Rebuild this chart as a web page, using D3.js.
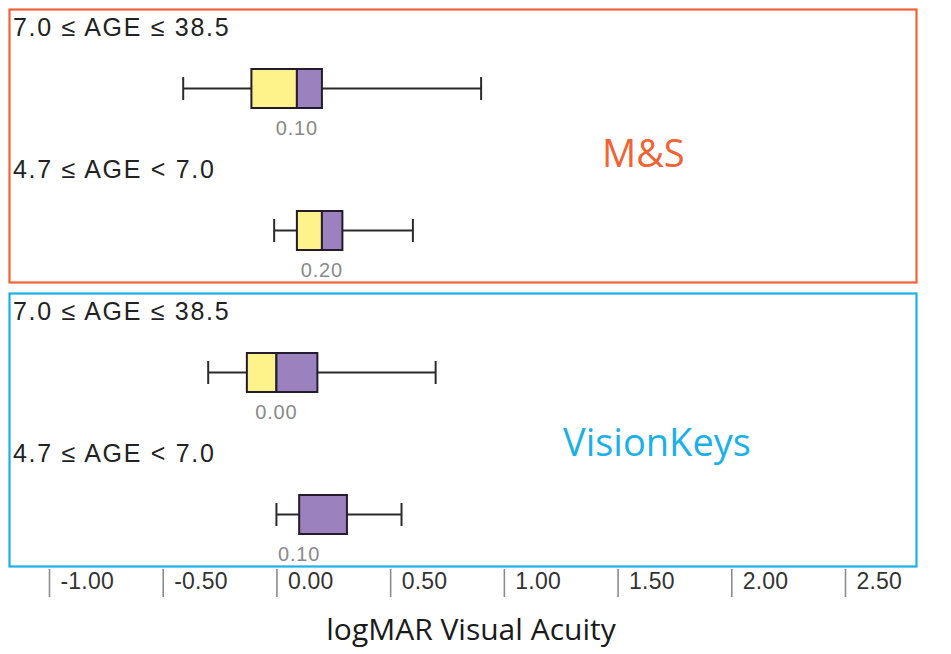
<!DOCTYPE html>
<html>
<head>
<meta charset="utf-8">
<script src="https://cdn.jsdelivr.net/npm/d3@7"></script>
<style>
  body { margin: 0; background: #fff; }
  svg { display: block; }
</style>
</head>
<body>
<svg id="chart"></svg>
<script>
// Data
const rows = ["ms-old", "ms-young", "vk-old", "vk-young"];
const groupLabels = ["7.0 ≤ AGE ≤ 38.5", "4.7 ≤ AGE < 7.0", "7.0 ≤ AGE ≤ 38.5", "4.7 ≤ AGE < 7.0"];
const lowWhisker = [-0.41, -0.01, -0.30, 0.00];
const q1 = [-0.11, 0.09, -0.13, 0.10];
const median = [0.09, 0.20, 0.00, 0.10];
const q3 = [0.20, 0.29, 0.18, 0.31];
const highWhisker = [0.90, 0.60, 0.70, 0.55];
const medianLabels = ["0.10", "0.20", "0.00", "0.10"];
const panelNames = ["M&S", "VisionKeys"];
const panelRows = [["ms-old", "ms-young"], ["vk-old", "vk-young"]];
const tickValues = [-1.0, -0.5, 0.0, 0.5, 1.0, 1.5, 2.0, 2.5];

const width = 951;
const height = 654;
const panelColors = ["#f26233", "#1bb0e9"];
const panelLabelX = [602, 563];
const panelLabelY = [157, 162];

const svg = d3.select("#chart").attr("width", width).attr("height", height);

const x = d3.scaleLinear().domain([-1, 2.5]).range([49, 845]);
const y = d3.scalePoint().domain(rows).range([88.5, 514.5]);

const boxH = 39;
const capH = 23;

// Panels (frames + names)
panelNames.forEach((name, i) => {
  const top = y(panelRows[i][0]) - 79;
  const bottom = y(panelRows[i][1]) + 52;
  svg.append("rect")
    .attr("x", 9.5)
    .attr("y", top)
    .attr("width", 907)
    .attr("height", bottom - top)
    .attr("fill", "none")
    .attr("stroke", panelColors[i])
    .attr("stroke-width", 2.2);
  svg.append("text")
    .attr("x", panelLabelX[i])
    .attr("y", top + panelLabelY[i])
    .attr("fill", panelColors[i])
    .style("font-family", "'Open Sans', sans-serif")
    .style("font-size", "38px")
    .text(name);
});

const data = rows.map((r, i) => ({
  row: r, label: groupLabels[i], lo: lowWhisker[i], q1: q1[i],
  med: median[i], q3: q3[i], hi: highWhisker[i], medLabel: medianLabels[i]
}));

const g = svg.selectAll(".box").data(data).enter().append("g").attr("class", "box");

// group labels
g.append("text")
  .attr("x", 13)
  .attr("y", (d) => y(d.row) - 52.5)
  .attr("fill", "#222")
  .style("font-family", "'Liberation Sans', Arial, sans-serif")
  .style("font-size", "25px")
  .style("letter-spacing", "1.7px")
  .text((d) => d.label);

// whiskers
g.append("line")
  .attr("x1", (d) => x(d.lo)).attr("x2", (d) => x(d.hi))
  .attr("y1", (d) => y(d.row)).attr("y2", (d) => y(d.row))
  .attr("stroke", "#2b2b2b").attr("stroke-width", 2);
g.append("line")
  .attr("x1", (d) => x(d.lo)).attr("x2", (d) => x(d.lo))
  .attr("y1", (d) => y(d.row) - capH / 2).attr("y2", (d) => y(d.row) + capH / 2)
  .attr("stroke", "#2b2b2b").attr("stroke-width", 2);
g.append("line")
  .attr("x1", (d) => x(d.hi)).attr("x2", (d) => x(d.hi))
  .attr("y1", (d) => y(d.row) - capH / 2).attr("y2", (d) => y(d.row) + capH / 2)
  .attr("stroke", "#2b2b2b").attr("stroke-width", 2);

// lower half (q1 - median) yellow, upper half (median - q3) purple
g.append("rect")
  .attr("x", (d) => x(d.q1))
  .attr("y", (d) => y(d.row) - boxH / 2)
  .attr("width", (d) => x(d.med) - x(d.q1))
  .attr("height", boxH)
  .attr("fill", "#fdf38a")
  .attr("stroke", "#221c2e")
  .attr("stroke-width", 2);
g.append("rect")
  .attr("x", (d) => x(d.med))
  .attr("y", (d) => y(d.row) - boxH / 2)
  .attr("width", (d) => x(d.q3) - x(d.med))
  .attr("height", boxH)
  .attr("fill", "#9b82bf")
  .attr("stroke", "#221c2e")
  .attr("stroke-width", 2);

// median value labels
g.append("text")
  .attr("x", (d) => x(d.med))
  .attr("y", (d) => y(d.row) + 46.5)
  .attr("text-anchor", "middle")
  .attr("fill", "#8a8a8a")
  .style("font-family", "'Liberation Sans', Arial, sans-serif")
  .style("font-size", "20px")
  .style("letter-spacing", "0.8px")
  .text((d) => d.medLabel);

// x axis
const axis = svg.append("g")
  .attr("transform", "translate(0,569)")
  .call(d3.axisBottom(x).tickValues(tickValues).tickSize(28).tickFormat(d3.format(".2f")));
axis.select(".domain").remove();
axis.selectAll(".tick line").attr("stroke", "#8c8c8c").attr("stroke-width", 1.6);
axis.selectAll(".tick text")
  .attr("x", 11)
  .attr("y", 20)
  .attr("dy", 0)
  .attr("text-anchor", "start")
  .attr("fill", "#333")
  .style("font-family", "'Liberation Sans', Arial, sans-serif")
  .style("font-size", "23px")
  .style("letter-spacing", "0.2px")
  .text((d) => d3.format(".2f")(d).replace("−", "-"));

// axis title
svg.append("text")
  .attr("x", 471)
  .attr("y", 640)
  .attr("text-anchor", "middle")
  .attr("fill", "#1a1a1a")
  .style("font-family", "'Open Sans', sans-serif")
  .style("font-size", "30px")
  .text("logMAR Visual Acuity");
</script>
</body>
</html>
